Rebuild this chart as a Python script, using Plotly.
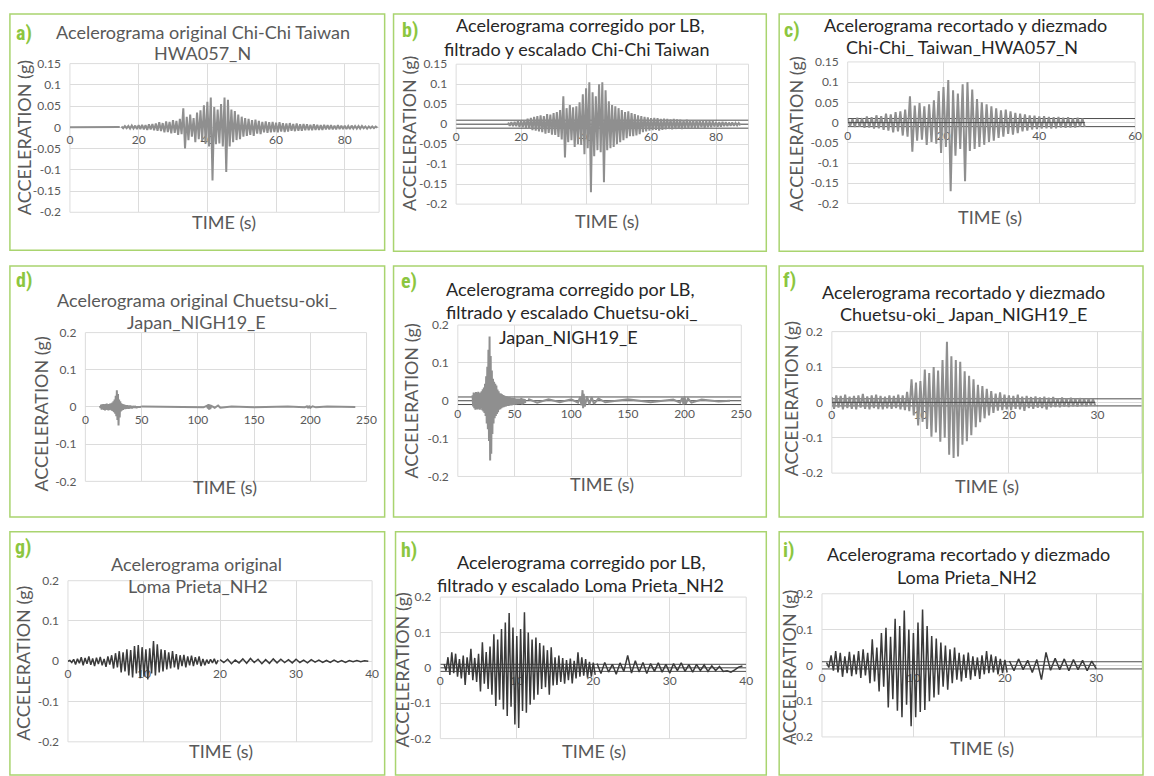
import plotly.graph_objects as go

W, H = 1154, 776

# ------------------------------------------------------------------
# DATA  (accelerations, in milli-g; time in s)
# ------------------------------------------------------------------
# a) original Chi-Chi Taiwan HWA057_N
a_lead_t = [0, 14.5]
a_lead_mg = [0, 1]
a_t0, a_dt = 15, 0.5
a_mg = [2, -2, 3, -2, 3, -3, 4, -3, 4, -4, 5, -4, 6, -5, 5, -6, 7, -5, 8, -7,
        9, -8, 12, -9, 10, -12, 14, -11, 13, -14, 17, -13, 15, -18, 20, -16, 45, -50, 25, -30,
        30, -22, 22, -35, 35, -28, 40, -32, 52, -38, 60, -45, 70, -125, 48, -40, 42, -38, 55, -45,
        70, -105, 65, -45, 42, -35, 38, -30, 30, -28, 25, -22, 22, -20, 20, -18, 17, -20, 18, -15,
        15, -16, 13, -12, 14, -13, 12, -12, 13, -11, 11, -12, 12, -10, 10, -11, 9, -10, 10, -8,
        8, -9, 9, -8, 7, -8, 8, -7, 7, -7, 6, -7, 7, -6, 6, -6, 5, -6, 6, -5,
        5, -5, 5, -5, 4, -5, 5, -4, 4, -4, 4, -4, 3, -4, 4, -3, 3, -3, 3, -3,
        3, -2, 2, -3, 2, -2, 2, -2, 2, -1]

# b) corrected, filtered and scaled Chi-Chi Taiwan
b_t0, b_dt = 16, 0.5
b_mg = [4, -4, 5, -5, 6, -5, 8, -7, 9, -8, 10, -9, 14, -12, 16, -15, 18, -16, 20, -18,
        22, -20, 20, -24, 25, -22, 24, -26, 28, -27, 30, -32, 35, -38, 70, -83, 40, -45, 48, -40,
        42, -57, 45, -50, 55, -52, 75, -75, 90, -60, 105, -170, 80, -80, 70, -65, 100, -70, 105, -145,
        85, -65, 57, -60, 48, -57, 45, -50, 40, -45, 35, -40, 30, -35, 32, -30, 28, -30, 25, -28,
        22, -25, 20, -20, 18, -18, 17, -16, 15, -15, 16, -14, 15, -16, 13, -14, 14, -13, 13, -12,
        12, -13, 13, -12, 12, -11, 11, -12, 10, -10, 11, -10, 10, -9, 9, -10, 10, -9, 9, -8,
        8, -9, 8, -8, 7, -8, 7, -6, 6, -6, 5, -6, 6, -5, 5, -5, 4, -4, 4, -4, 3, -3, 3, -3]

# c) trimmed and decimated Chi-Chi Taiwan
c_t0, c_dt = 0, 0.5
c_mg = [10, -9, 9, -11, 12, -10, 11, -13, 15, -12, 13, -15, 18, -14, 16, -18, 22, -20, 20, -24,
        26, -22, 28, -32, 32, -35, 65, -72, 42, -45, 48, -42, 40, -55, 45, -48, 55, -52, 78, -75,
        88, -60, 105, -170, 80, -82, 72, -65, 95, -145, 100, -70, 82, -65, 58, -60, 50, -55, 45, -48,
        40, -45, 35, -38, 30, -35, 32, -28, 28, -30, 24, -26, 22, -22, 20, -20, 18, -17, 17, -16,
        15, -15, 16, -14, 14, -15, 13, -14, 14, -12, 12, -13, 13, -12, 11, -12, 12, -10, 10, -11]

# d) original Chuetsu-oki Japan NIGH19_E
d_t0, d_dt = 13, 0.5
d_mg = [3, -3, 6, -7, 7, -6, 8, -8, 7, -9, 8, -7, 9, -8, 7, -9, 8, -8, 9, -7,
        10, -10, 12, -11, 15, -14, 20, -18, 30, -25, 45, -35, 35, -50, 20, -28, 15, -12, 10, -9,
        8, -8, 7, -6, 6, -6, 5, -5, 5, -4, 4, -5, 4, -4, 4, -3, 3, -4, 3, -3,
        3, -3, 3, -2, 2, -3, 2, -2, 2, -2, 2, -2, 2, -1]
d_tail_t = [50, 55, 70, 90, 105, 108, 109, 109.5, 110, 110.5, 111, 112, 115, 118, 120, 130,
            150, 180, 195, 197, 198, 199, 200, 202, 205, 215, 240]
d_tail_mg = [1, 1, -1, 1, -1, 3, -4, 8, -7, 6, -5, 3, -2, 4, -2, 1,
             -1, 1, -1, 2, -3, 3, -2, 2, -1, 1, 0]

# e) corrected, filtered and scaled Chuetsu-oki
e_t0, e_dt = 13, 0.5
e_mg = [15, -15, 22, -20, 20, -24, 23, -22, 21, -23, 24, -21, 20, -24, 22, -20, 25, -25, 30, -28,
        35, -32, 45, -40, 65, -60, 90, -75, 135, -106, 170, -158, 118, -140, 80, -88, 58, -60, 50, -46,
        45, -40, 40, -35, 30, -30, 25, -24, 20, -22, 19, -20, 17, -18, 15, -17, 14, -16, 12, -15,
        12, -14, 10, -14, 10, -13, 9, -12, 8, -12, 8, -11, 7, -11, 7, -10, 6, -10, 6, -9,
        6, -9, 5, -8, 6, -8, 8, -10, 6, -9, 5, -7, 4, -6]
e_tail_t = [62, 70, 80, 90, 100, 106, 108, 109, 110, 110.5, 111, 112, 114, 116, 118, 120, 124,
            130, 150, 170, 190, 196, 198, 199, 200, 201, 203, 206, 215, 230, 240]
e_tail_mg = [5, -5, 4, -4, 4, -5, 10, -12, 28, -20, 18, -15, 12, -10, 10, -8, 6,
             -4, 4, -4, 3, -5, 8, -10, 10, -8, 6, -5, 3, -2, 0]

# f) trimmed and decimated Chuetsu-oki
f_t0, f_dt = 0, 0.25
f_mg = [15, -18, 20, -15, 18, -20, 22, -16, 16, -18, 18, -20, 20, -15, 24, -18, 17, -20, 20, -16,
        22, -19, 18, -20, 16, -17, 20, -18, 18, -16, 22, -20, 20, -22, 30, -25, 65, -37, 56, -65,
        60, -55, 93, -75, 83, -97, 100, -85, 90, -111, 120, -100, 171, -148, 130, -157, 120, -153, 115, -120,
        88, -110, 75, -93, 65, -70, 50, -56, 46, -45, 38, -37, 32, -30, 25, -23, 28, -22, 22, -20,
        20, -22, 18, -18, 22, -20, 16, -24, 18, -16, 15, -18, 17, -15, 14, -16, 16, -20, 13, -14,
        15, -13, 12, -14, 14, -12, 12, -13, 13, -11, 11, -12, 12, -10, 10, -11, 11, -9, 9, -10]

# g) original Loma Prieta NH2
g_t0, g_dt = 0, 0.25
g_mg = [0, 2, -3, 5, -8, 6, -5, 10, -10, 8, -6, 12, -9, 7, -12, 9, -7, 11, -10, 6,
        -14, 12, -8, 15, -18, 20, -15, 25, -28, 22, -25, 30, -35, 28, -40, 38, -30, 40, -42, 35,
        -38, 30, -45, 32, -30, 50, -35, 42, -28, 30, -25, 28, -20, 22, -18, 25, -15, 18, -20, 15,
        -12, 16, -15, 12, -10, 14, -12, 10, -8, 12, -12, 6, -10, 4, -6, 5, -4, 6, -7, 3]
g_tail_t0, g_tail_dt = 20, 0.5
g_tail_mg = [4, -3, 5, -6, 3, -4, 6, -5, 7, -3, 5, -6, 4, -5, 6, -4, 5, -3, 4, -4,
             5, -3, 3, -4, 4, -2, 3, -3, 2, -3, 3, -2, 2, -3, 2, -1, 2, -1, 1, 0]

# h) corrected, filtered and scaled Loma Prieta
h_t0, h_dt = 0.5, 0.25
h_mg = [10, -8, 30, -20, 44, -15, 40, -25, 25, -30, 35, -48, 30, -20, 54, -35, 28, -40, 40, -67,
        72, -45, 45, -60, 60, -76, 95, -108, 80, -90, 110, -118, 128, -136, 155, -110, 114, -160, 90, -170,
        110, -122, 157, -127, 100, -104, 80, -90, 86, -76, 70, -60, 63, -55, 50, -76, 58, -50, 30, -48,
        35, -40, 28, -45, 22, -35, 26, -44, 20, -30, 44, -25, 30, -22, 25, -28, 17, -25, 15, -20]
h_tail_t0, h_tail_dt = 20.5, 0.5
h_tail_mg = [12, -16, 15, -12, 10, -18, 14, -10, 35, -15, 20, -12, 15, -16, 12, -10, 14, -12, 10, -15,
             12, -8, 14, -10, 9, -12, 10, -8, 8, -10, 6, -8, 4, -10, -8, -12, -6, 2, 5]

# i) trimmed and decimated Loma Prieta
i_t0, i_dt = 0.5, 0.25
i_mg = [8, -6, 28, -15, 40, -20, 35, -32, 25, -22, 38, -30, 30, -25, 40, -35, 45, -28, 35, -50,
        73, -45, 50, -73, 90, -60, 105, -118, 80, -95, 130, -127, 110, -145, 153, -110, 100, -170, 90, -145,
        120, -130, 156, -125, 110, -100, 82, -90, 75, -82, 64, -60, 55, -68, 45, -50, 50, -40, 35, -45,
        30, -35, 36, -40, 25, -30, 22, -38, 28, -25, 40, -22, 30, -20, 25, -25, 18, -22, 15, -20]
i_tail_t0, i_tail_dt = 20.5, 0.5
i_tail_mg = [12, -15, 18, -12, 14, -20, 16, -40, 36, -14, 20, -12, 18, -15, 16, -12, 14, -15, 12, -10]

# baseline-correction band level (g)
band_level = 0.01

# tick values / labels
y_ticks_chichi = [0.15, 0.1, 0.05, 0, -0.05, -0.1, -0.15, -0.2]
y_text_chichi = ["0.15", "0.1", "0.05", "0", "-0.05", "-0.1", "-0.15", "-0.2"]
y_ticks_other = [0.2, 0.1, 0, -0.1, -0.2]
y_text_other = ["0.2", "0.1", "0", "-0.1", "-0.2"]
x_ticks_90 = [0, 20, 40, 60, 80]
x_ticks_60 = [0, 20, 40, 60]
x_ticks_250 = [0, 50, 100, 150, 200, 250]
x_ticks_35 = [0, 10, 20, 30]
x_ticks_40 = [0, 10, 20, 30, 40]

titles = {
    "a": ["Acelerograma original Chi-Chi Taiwan", "HWA057_N"],
    "b": ["Acelerograma corregido por LB,", "filtrado y escalado Chi-Chi Taiwan"],
    "c": ["Acelerograma recortado y diezmado", "Chi-Chi_ Taiwan_HWA057_N"],
    "d": ["Acelerograma original Chuetsu-oki_", "Japan_NIGH19_E"],
    "e": ["Acelerograma corregido por LB,", "filtrado y escalado Chuetsu-oki_", "Japan_NIGH19_E"],
    "f": ["Acelerograma recortado y diezmado", "Chuetsu-oki_ Japan_NIGH19_E"],
    "g": ["Acelerograma original", "Loma Prieta_NH2"],
    "h": ["Acelerograma corregido por LB,", "filtrado y escalado Loma Prieta_NH2"],
    "i": ["Acelerograma recortado y diezmado", "Loma Prieta_NH2"],
}
y_title = "ACCELERATION (g)"
x_title = "TIME (s)"


def seq(t0, dt, mg):
    return [t0 + k * dt for k in range(len(mg))], [v / 1000 for v in mg]


def pts(ts, mg):
    return list(ts), [v / 1000 for v in mg]


signals = {
    "a": [pts(a_lead_t, a_lead_mg), seq(a_t0, a_dt, a_mg)],
    "b": [seq(b_t0, b_dt, b_mg)],
    "c": [seq(c_t0, c_dt, c_mg)],
    "d": [seq(d_t0, d_dt, d_mg), pts(d_tail_t, d_tail_mg)],
    "e": [seq(e_t0, e_dt, e_mg), pts(e_tail_t, e_tail_mg)],
    "f": [seq(f_t0, f_dt, f_mg)],
    "g": [seq(g_t0, g_dt, g_mg), seq(g_tail_t0, g_tail_dt, g_tail_mg)],
    "h": [seq(h_t0, h_dt, h_mg), seq(h_tail_t0, h_tail_dt, h_tail_mg)],
    "i": [seq(i_t0, i_dt, i_mg), seq(i_tail_t0, i_tail_dt, i_tail_mg)],
}

# ------------------------------------------------------------------
# LAYOUT (pixel geometry of each panel)
# ------------------------------------------------------------------
GREY_SIG = "#8f8f8f"
DARK_SIG = "#3a3a3a"
panels = [
    dict(k="a", box=(7, 6, 386, 247), plot=(67.7, 56.7, 380.4, 208.3), xr=(0, 90), xt=x_ticks_90,
         yr=(-0.2, 0.15), yt=(y_ticks_chichi, y_text_chichi), col=GREY_SIG, band=None,
         tcol="#595959", tpos=[(202, 24), (202, 46)], lab=(21, 25), yl=(22, 132), xl=(224, 218)),
    dict(k="b", box=(395, 6, 772, 248), plot=(458.3, 57.3, 754.0, 200), xr=(0, 90), xt=x_ticks_90,
         yr=(-0.2, 0.15), yt=(y_ticks_chichi, y_text_chichi), col=GREY_SIG, band="zero",
         tcol="#262626", tpos=[(584, 17), (581, 42)], lab=(412, 22), yl=(410, 128), xl=(611, 217)),
    dict(k="c", box=(785, 6, 1153, 248), plot=(854.3, 55, 1145, 199.3), xr=(0, 60), xt=x_ticks_60,
         yr=(-0.2, 0.15), yt=(y_ticks_chichi, y_text_chichi), col=GREY_SIG, band="nozero",
         tcol="#262626", tpos=[(973, 17), (970, 40)], lab=(798, 22), yl=(802, 128), xl=(998, 213)),
    dict(k="d", box=(7, 263, 386, 519), plot=(83.3, 331, 367.7, 482.7), xr=(0, 250), xt=x_ticks_250,
         yr=(-0.2, 0.2), yt=(y_ticks_other, y_text_other), col=GREY_SIG, band=None,
         tcol="#595959", tpos=[(196, 298), (196, 320)], lab=(21, 277), yl=(38, 414), xl=(225, 488)),
    dict(k="e", box=(395, 263, 772, 519), plot=(460, 323.3, 746.7, 477.7), xr=(0, 250), xt=x_ticks_250,
         yr=(-0.2, 0.2), yt=(y_ticks_other, y_text_other), col=GREY_SIG, band="zero",
         tcol="#262626", tpos=[(574, 287), (575, 310), (572, 335)], lab=(411, 278), yl=(413, 401), xl=(606, 485)),
    dict(k="f", box=(785, 263, 1153, 519), plot=(838.3, 330, 1151.7, 474.3), xr=(0, 35), xt=x_ticks_35,
         yr=(-0.2, 0.2), yt=(y_ticks_other, y_text_other), col=GREY_SIG, band="nozero",
         tcol="#262626", tpos=[(971, 290), (971, 312)], lab=(795, 277), yl=(797, 399), xl=(995, 487)),
    dict(k="g", box=(7, 534, 386, 782), plot=(65.7, 584, 373.3, 748.3), xr=(0, 40), xt=x_ticks_40,
         yr=(-0.2, 0.2), yt=(y_ticks_other, y_text_other), col=DARK_SIG, band=None,
         tcol="#595959", tpos=[(196, 567), (197, 589)], lab=(21, 550), yl=(20, 668), xl=(220, 758)),
    dict(k="h", box=(397, 534, 772, 782), plot=(442.3, 600.7, 751.7, 745), xr=(0, 40), xt=x_ticks_40,
         yr=(-0.2, 0.2), yt=(y_ticks_other, y_text_other), col=DARK_SIG, band="zero",
         tcol="#262626", tpos=[(585, 565), (584, 588)], lab=(411, 553), yl=(403, 675), xl=(598, 758)),
    dict(k="i", box=(785, 534, 1153, 782), plot=(828.3, 597.3, 1152, 743.3), xr=(0, 35), xt=x_ticks_35,
         yr=(-0.2, 0.2), yt=(y_ticks_other, y_text_other), col=DARK_SIG, band="nozero",
         tcol="#262626", tpos=[(976, 557), (975, 580)], lab=(795, 553), yl=(795, 673), xl=(990, 755)),
]

FONT = "Lato, Carlito, Calibri, 'Open Sans', sans-serif"
LABEL_FONT = "'Liberation Sans Narrow', 'Roboto Condensed', Roboto, sans-serif"
GRID = "#dcdcdc"
BORDER = "#a9d46f"
LETTER = "#8cc63f"


def px(x):
    return x / W


def py(y):
    return 1 - y / H


fig = go.Figure()
layout = dict(width=W, height=H, margin=dict(l=0, r=0, t=0, b=0),
              paper_bgcolor="white", plot_bgcolor="white", showlegend=False)
shapes, annotations = [], []

for n, p in enumerate(panels, start=1):
    sfx = "" if n == 1 else str(n)
    xa, ya = "x" + sfx, "y" + sfx
    L, T, R, B = p["plot"]
    ymin, ymax = p["yr"]
    y_dom = [py(B), py(T)]
    zero_pos = y_dom[0] + (0 - ymin) / (ymax - ymin) * (y_dom[1] - y_dom[0])
    lw = 2 if p["col"] == GREY_SIG else 1.5

    layout["xaxis" + sfx] = dict(
        domain=[px(L), px(R)], range=list(p["xr"]), tickvals=p["xt"],
        ticktext=[str(v) for v in p["xt"]], showgrid=True, gridcolor=GRID, gridwidth=1,
        zeroline=False, showline=False, ticks="", anchor="free", position=zero_pos,
        tickfont=dict(family=FONT, size=12, color="#595959"), ticklabelstandoff=4,
        layer="below traces", fixedrange=True)
    layout["yaxis" + sfx] = dict(
        domain=y_dom, range=[ymin, ymax], tickvals=p["yt"][0], ticktext=p["yt"][1],
        showgrid=True, gridcolor=GRID, gridwidth=1, zeroline=False, showline=False,
        ticks="", anchor=xa, tickfont=dict(family=FONT, size=12, color="#595959"),
        ticklabelstandoff=8, fixedrange=True)

    # plot-area outline
    shapes.append(dict(type="rect", xref=xa + " domain", yref=ya + " domain",
                       x0=0, x1=1, y0=0, y1=1, line=dict(color=GRID, width=1), layer="below"))

    # baseline band lines (corrected / trimmed records)
    if p["band"]:
        x0, x1 = p["xr"]
        levels = [band_level, -band_level] + ([0] if p["band"] == "zero" else [])
        for lv in levels:
            fig.add_trace(go.Scatter(x=[x0, x1], y=[lv, lv], mode="lines", xaxis=xa, yaxis=ya,
                                     line=dict(color="#4d4d4d", width=1), hoverinfo="skip"))

    for ts, ys in signals[p["k"]]:
        fig.add_trace(go.Scatter(x=ts, y=ys, mode="lines", xaxis=xa, yaxis=ya,
                                 line=dict(color=p["col"], width=lw), hoverinfo="skip"))
    if p["band"] == "nozero":
        ts_all = [t for ts, _ in signals[p["k"]] for t in ts]
        fig.add_trace(go.Scatter(x=[min(ts_all), max(ts_all)], y=[0, 0], mode="lines",
                                 xaxis=xa, yaxis=ya, line=dict(color="#4d4d4d", width=1),
                                 hoverinfo="skip"))

    # green panel border
    bx0, by0, bx1, by1 = p["box"]
    shapes.append(dict(type="rect", xref="paper", yref="paper", x0=px(bx0), x1=px(bx1),
                       y0=py(by1), y1=py(by0), line=dict(color=BORDER, width=1.5)))

    # title lines
    for line, (tx, ty) in zip(titles[p["k"]], p["tpos"]):
        annotations.append(dict(text=line, x=px(tx), y=py(ty), xref="paper", yref="paper",
                                xanchor="center", yanchor="middle", showarrow=False,
                                font=dict(family=FONT, size=18, color=p["tcol"])))
    # panel letter
    annotations.append(dict(text="<b>" + p["k"] + ")</b>", x=px(p["lab"][0]), y=py(p["lab"][1]),
                            xref="paper", yref="paper", xanchor="center", yanchor="middle",
                            showarrow=False, font=dict(family=LABEL_FONT, size=20, color=LETTER)))
    # axis titles
    annotations.append(dict(text=y_title, x=px(p["yl"][0]), y=py(p["yl"][1]), xref="paper",
                            yref="paper", xanchor="center", yanchor="middle", textangle=-90,
                            showarrow=False, font=dict(family=FONT, size=18, color="#595959")))
    annotations.append(dict(text=x_title, x=px(p["xl"][0]), y=py(p["xl"][1]), xref="paper",
                            yref="paper", xanchor="center", yanchor="middle", showarrow=False,
                            font=dict(family=FONT, size=18, color="#595959")))

layout["shapes"] = shapes
layout["annotations"] = annotations
fig.update_layout(**layout)
fig.write_html("out.html",
               config={"displayModeBar": False},
               post_script="document.body.style.margin='0px';document.body.style.overflow='hidden';")
